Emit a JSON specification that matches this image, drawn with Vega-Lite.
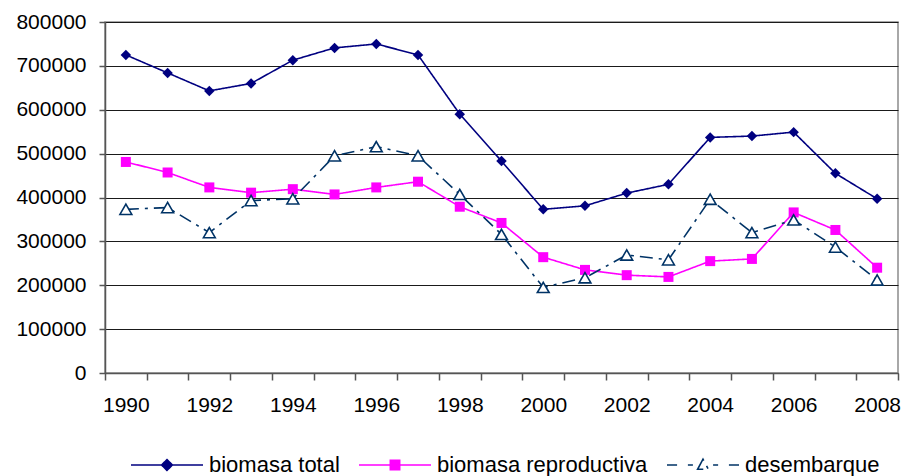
{
  "$schema": "https://vega.github.io/schema/vega-lite/v6.json",
  "width": 793,
  "height": 351,
  "autosize": {"type": "none"},
  "padding": {"left": 105, "top": 22, "right": 3, "bottom": 103},
  "background": "white",
  "config": {
    "font": "Liberation Sans",
    "view": {"stroke": "#8c8c8c", "strokeWidth": 1.5},
    "axis": {"labelFont": "Liberation Sans", "labelFontSize": 21, "labelColor": "#000000"}
  },
  "data": {
    "values": [
      {"anio": 1990, "serie": "biomasa total", "valor": 725000},
      {"anio": 1991, "serie": "biomasa total", "valor": 684000},
      {"anio": 1992, "serie": "biomasa total", "valor": 643000},
      {"anio": 1993, "serie": "biomasa total", "valor": 660000},
      {"anio": 1994, "serie": "biomasa total", "valor": 713000},
      {"anio": 1995, "serie": "biomasa total", "valor": 741000},
      {"anio": 1996, "serie": "biomasa total", "valor": 750000},
      {"anio": 1997, "serie": "biomasa total", "valor": 725000},
      {"anio": 1998, "serie": "biomasa total", "valor": 590000},
      {"anio": 1999, "serie": "biomasa total", "valor": 483000},
      {"anio": 2000, "serie": "biomasa total", "valor": 373000},
      {"anio": 2001, "serie": "biomasa total", "valor": 381000},
      {"anio": 2002, "serie": "biomasa total", "valor": 410000},
      {"anio": 2003, "serie": "biomasa total", "valor": 430000},
      {"anio": 2004, "serie": "biomasa total", "valor": 537000},
      {"anio": 2005, "serie": "biomasa total", "valor": 540000},
      {"anio": 2006, "serie": "biomasa total", "valor": 549000},
      {"anio": 2007, "serie": "biomasa total", "valor": 455000},
      {"anio": 2008, "serie": "biomasa total", "valor": 397000},
      {"anio": 1990, "serie": "biomasa reproductiva", "valor": 481000},
      {"anio": 1991, "serie": "biomasa reproductiva", "valor": 457000},
      {"anio": 1992, "serie": "biomasa reproductiva", "valor": 423000},
      {"anio": 1993, "serie": "biomasa reproductiva", "valor": 411000},
      {"anio": 1994, "serie": "biomasa reproductiva", "valor": 419000},
      {"anio": 1995, "serie": "biomasa reproductiva", "valor": 407000},
      {"anio": 1996, "serie": "biomasa reproductiva", "valor": 423000},
      {"anio": 1997, "serie": "biomasa reproductiva", "valor": 436000},
      {"anio": 1998, "serie": "biomasa reproductiva", "valor": 379000},
      {"anio": 1999, "serie": "biomasa reproductiva", "valor": 342000},
      {"anio": 2000, "serie": "biomasa reproductiva", "valor": 264000},
      {"anio": 2001, "serie": "biomasa reproductiva", "valor": 235000},
      {"anio": 2002, "serie": "biomasa reproductiva", "valor": 223000},
      {"anio": 2003, "serie": "biomasa reproductiva", "valor": 219000},
      {"anio": 2004, "serie": "biomasa reproductiva", "valor": 255000},
      {"anio": 2005, "serie": "biomasa reproductiva", "valor": 260000},
      {"anio": 2006, "serie": "biomasa reproductiva", "valor": 366000},
      {"anio": 2007, "serie": "biomasa reproductiva", "valor": 326000},
      {"anio": 2008, "serie": "biomasa reproductiva", "valor": 240000},
      {"anio": 1990, "serie": "desembarque", "valor": 373000},
      {"anio": 1991, "serie": "desembarque", "valor": 377000},
      {"anio": 1992, "serie": "desembarque", "valor": 320000},
      {"anio": 1993, "serie": "desembarque", "valor": 393000},
      {"anio": 1994, "serie": "desembarque", "valor": 397000},
      {"anio": 1995, "serie": "desembarque", "valor": 495000},
      {"anio": 1996, "serie": "desembarque", "valor": 516000},
      {"anio": 1997, "serie": "desembarque", "valor": 495000},
      {"anio": 1998, "serie": "desembarque", "valor": 407000},
      {"anio": 1999, "serie": "desembarque", "valor": 316000},
      {"anio": 2000, "serie": "desembarque", "valor": 195000},
      {"anio": 2001, "serie": "desembarque", "valor": 217000},
      {"anio": 2002, "serie": "desembarque", "valor": 269000},
      {"anio": 2003, "serie": "desembarque", "valor": 258000},
      {"anio": 2004, "serie": "desembarque", "valor": 396000},
      {"anio": 2005, "serie": "desembarque", "valor": 320000},
      {"anio": 2006, "serie": "desembarque", "valor": 349000},
      {"anio": 2007, "serie": "desembarque", "valor": 287000},
      {"anio": 2008, "serie": "desembarque", "valor": 212000}
    ]
  },
  "encoding": {
    "x": {
      "field": "anio",
      "type": "quantitative",
      "scale": {"domain": [1989.5, 2008.5], "nice": false, "zero": false},
      "axis": {
        "title": null,
        "grid": false,
        "values": [1989.5, 1990.5, 1991.5, 1992.5, 1993.5, 1994.5, 1995.5, 1996.5, 1997.5, 1998.5, 1999.5, 2000.5, 2001.5, 2002.5, 2003.5, 2004.5, 2005.5, 2006.5, 2007.5, 2008.5],
        "labelExpr": "(datum.value + 0.5) % 2 == 0 ? format(datum.value + 0.5, 'd') : ''",
        "labelOffset": 20.87,
        "labelOverlap": false,
        "labelFlush": false,
        "labelPadding": 14,
        "tickSize": 7,
        "tickColor": "#555555",
        "tickWidth": 1.5,
        "domainColor": "#555555",
        "domainWidth": 1.5
      }
    },
    "y": {
      "field": "valor",
      "type": "quantitative",
      "scale": {"domain": [0, 800000], "nice": false},
      "axis": {
        "title": null,
        "values": [0, 100000, 200000, 300000, 400000, 500000, 600000, 700000, 800000],
        "format": "d",
        "grid": true,
        "gridColor": "#1a1a1a",
        "gridWidth": 1,
        "tickSize": 6,
        "tickColor": "#555555",
        "tickWidth": 1.5,
        "domainColor": "#555555",
        "domainWidth": 1.5,
        "labelPadding": 13
      }
    }
  },
  "layer": [
    {
      "mark": {"type": "line", "strokeWidth": 1.6},
      "encoding": {
        "color": {
          "field": "serie",
          "type": "nominal",
          "scale": {
            "domain": ["biomasa total", "biomasa reproductiva", "desembarque"],
            "range": ["#000080", "#ff00ff", "#003366"]
          },
          "legend": {
            "title": null,
            "orient": "none",
            "direction": "horizontal",
            "legendX": 25,
            "legendY": 406,
            "padding": 0,
            "symbolSize": 5184,
            "symbolStrokeWidth": 1.5,
            "labelOffset": 5,
            "columnPadding": 15,
            "labelLimit": 0,
            "labelFont": "Liberation Sans",
            "labelFontSize": 22,
            "labelColor": "#000000",
            "encode": {
              "symbols": {
                "update": {
                  "shape": {"signal": "datum.value === 'biomasa total' ? 'M-1,0H1M-0.15,0L0,-0.15L0.15,0L0,0.15Z' : (datum.value === 'biomasa reproductiva' ? 'M-1,0H1M-0.13,-0.13H0.13V0.13H-0.13Z' : 'M-1,0H-0.72M-0.42,0H-0.28M0.28,0H0.42M0.72,0H1M-0.15,0.12L0,-0.16L0.15,0.12Z')"},
                  "fill": {"signal": "datum.value === 'biomasa total' ? '#000080' : (datum.value === 'biomasa reproductiva' ? '#ff00ff' : '#ffffff')"},
                  "stroke": {"signal": "datum.value === 'biomasa total' ? '#000080' : (datum.value === 'biomasa reproductiva' ? '#ff00ff' : '#003366')"},
                  "strokeWidth": {"value": 1.6},
                  "opacity": {"value": 1},
                  "fillOpacity": {"value": 1}
                }
              }
            }
          }
        },
        "strokeDash": {
          "field": "serie",
          "type": "nominal",
          "scale": {
            "domain": ["biomasa total", "biomasa reproductiva", "desembarque"],
            "range": [[1, 0], [1, 0], [13, 6, 3, 6]]
          },
          "legend": null
        },
        "strokeWidth": {
          "field": "serie",
          "type": "nominal",
          "scale": {
            "domain": ["biomasa total", "biomasa reproductiva", "desembarque"],
            "range": [1.6, 1.6, 2.4]
          },
          "legend": null
        }
      }
    },
    {
      "transform": [{"filter": "datum.serie === 'biomasa total'"}],
      "mark": {"type": "point", "shape": "diamond", "filled": true, "size": 110, "color": "#000080", "opacity": 1},
      "encoding": {}
    },
    {
      "transform": [{"filter": "datum.serie === 'biomasa reproductiva'"}],
      "mark": {"type": "point", "shape": "square", "filled": true, "size": 100, "color": "#ff00ff", "opacity": 1},
      "encoding": {}
    },
    {
      "transform": [{"filter": "datum.serie === 'desembarque'"}],
      "mark": {"type": "point", "shape": "triangle-up", "filled": false, "size": 140, "stroke": "#003366", "fill": "#ffffff", "fillOpacity": 1, "strokeWidth": 1.6, "opacity": 1},
      "encoding": {}
    }
  ]
}
